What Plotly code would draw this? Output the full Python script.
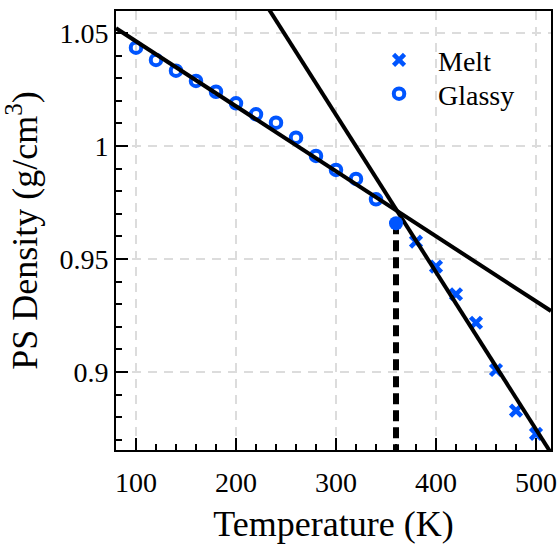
import numpy as np
import plotly.graph_objects as go

# Glassy (below Tg) and melt (above Tg) density data, g/cm^3
glassy_T = [100, 120, 140, 160, 180, 200, 220, 240, 260, 280, 300, 320, 340]
glassy_rho = [1.0435, 1.0381, 1.0333, 1.0288, 1.0240, 1.0189, 1.0140,
              1.0103, 1.0037, 0.9956, 0.9894, 0.9854, 0.9764]
melt_T = [380, 400, 420, 440, 460, 480, 500]
melt_rho = [0.9577, 0.9466, 0.9344, 0.9218, 0.9009, 0.8829, 0.8726]

# Point at the glass transition
tg_T = 360
tg_rho = 0.9658

# Linear fits rho = a + b*T for each regime
glassy_fit = (1.0751, -0.0002876)
melt_fit = (1.2226, -0.000696)

x_range = [80, 515]
y_range = [0.86549, 1.05973]

BLUE = "rgb(0,85,255)"
FONT = "Liberation Serif, Times New Roman, DejaVu Serif, serif"

fig = go.Figure()

fig.add_trace(go.Scatter(
    x=melt_T, y=melt_rho, mode="markers", name="Melt", legend="legend",
    marker=dict(symbol="x-thin", size=11, color=BLUE,
                line=dict(color=BLUE, width=4.5)),
))
fig.add_trace(go.Scatter(
    x=glassy_T, y=glassy_rho, mode="markers", name="Glassy", legend="legend2",
    marker=dict(symbol="circle-open", size=10.5, color=BLUE,
                line=dict(color=BLUE, width=4)),
))

T_line = np.array(x_range, dtype=float)
for a, b in (glassy_fit, melt_fit):
    fig.add_trace(go.Scatter(
        x=T_line, y=a + b * T_line, mode="lines", showlegend=False,
        line=dict(color="black", width=4), hoverinfo="skip",
    ))

fig.add_trace(go.Scatter(
    x=[tg_T, tg_T], y=[tg_rho, y_range[0]], mode="lines", showlegend=False,
    line=dict(color="black", width=6, dash="11px,6px"), hoverinfo="skip",
))
fig.add_trace(go.Scatter(
    x=[tg_T], y=[tg_rho], mode="markers", showlegend=False,
    marker=dict(symbol="circle", size=14, color=BLUE),
))

axis_common = dict(
    showline=True, linecolor="black", linewidth=2, mirror=True,
    ticks="inside", ticklen=12, tickwidth=2, tickcolor="black",
    showgrid=True, gridcolor="#dcdcdc", gridwidth=1.5, griddash="9px,7px",
    zeroline=False, automargin=False,
    tickfont=dict(family=FONT, size=28, color="black"),
)

fig.update_xaxes(
    range=x_range, tickvals=[100, 200, 300, 400, 500], ticklabelstandoff=6,
    minor=dict(ticks="inside", ticklen=6, tickwidth=2, tickcolor="black",
               dtick=20, tick0=0, showgrid=False),
    title=dict(text="Temperature (K)", font=dict(family=FONT, size=36, color="black"),
               standoff=15),
    **axis_common,
)
fig.update_yaxes(
    range=y_range, tickvals=[0.9, 0.95, 1.0, 1.05], ticktext=["0.9", "0.95", "1", "1.05"],
    minor=dict(ticks="inside", ticklen=6, tickwidth=2, tickcolor="black",
               dtick=0.01, tick0=0, showgrid=False),
    title=dict(text="PS Density (g/cm<sup>3</sup>)",
               font=dict(family=FONT, size=36, color="black"), standoff=14),
    **axis_common,
)

legend_style = dict(xanchor="left", yanchor="top", bgcolor="rgba(0,0,0,0)",
                    font=dict(family=FONT, size=28, color="black"), itemwidth=68)

fig.update_layout(
    width=560, height=544,
    margin=dict(l=116, r=9, t=11, b=94),
    plot_bgcolor="white", paper_bgcolor="white",
    legend=dict(x=0.561, y=0.945, **legend_style),
    legend2=dict(x=0.561, y=0.868, **legend_style),
    showlegend=True,
)

fig.write_html("out.html")
